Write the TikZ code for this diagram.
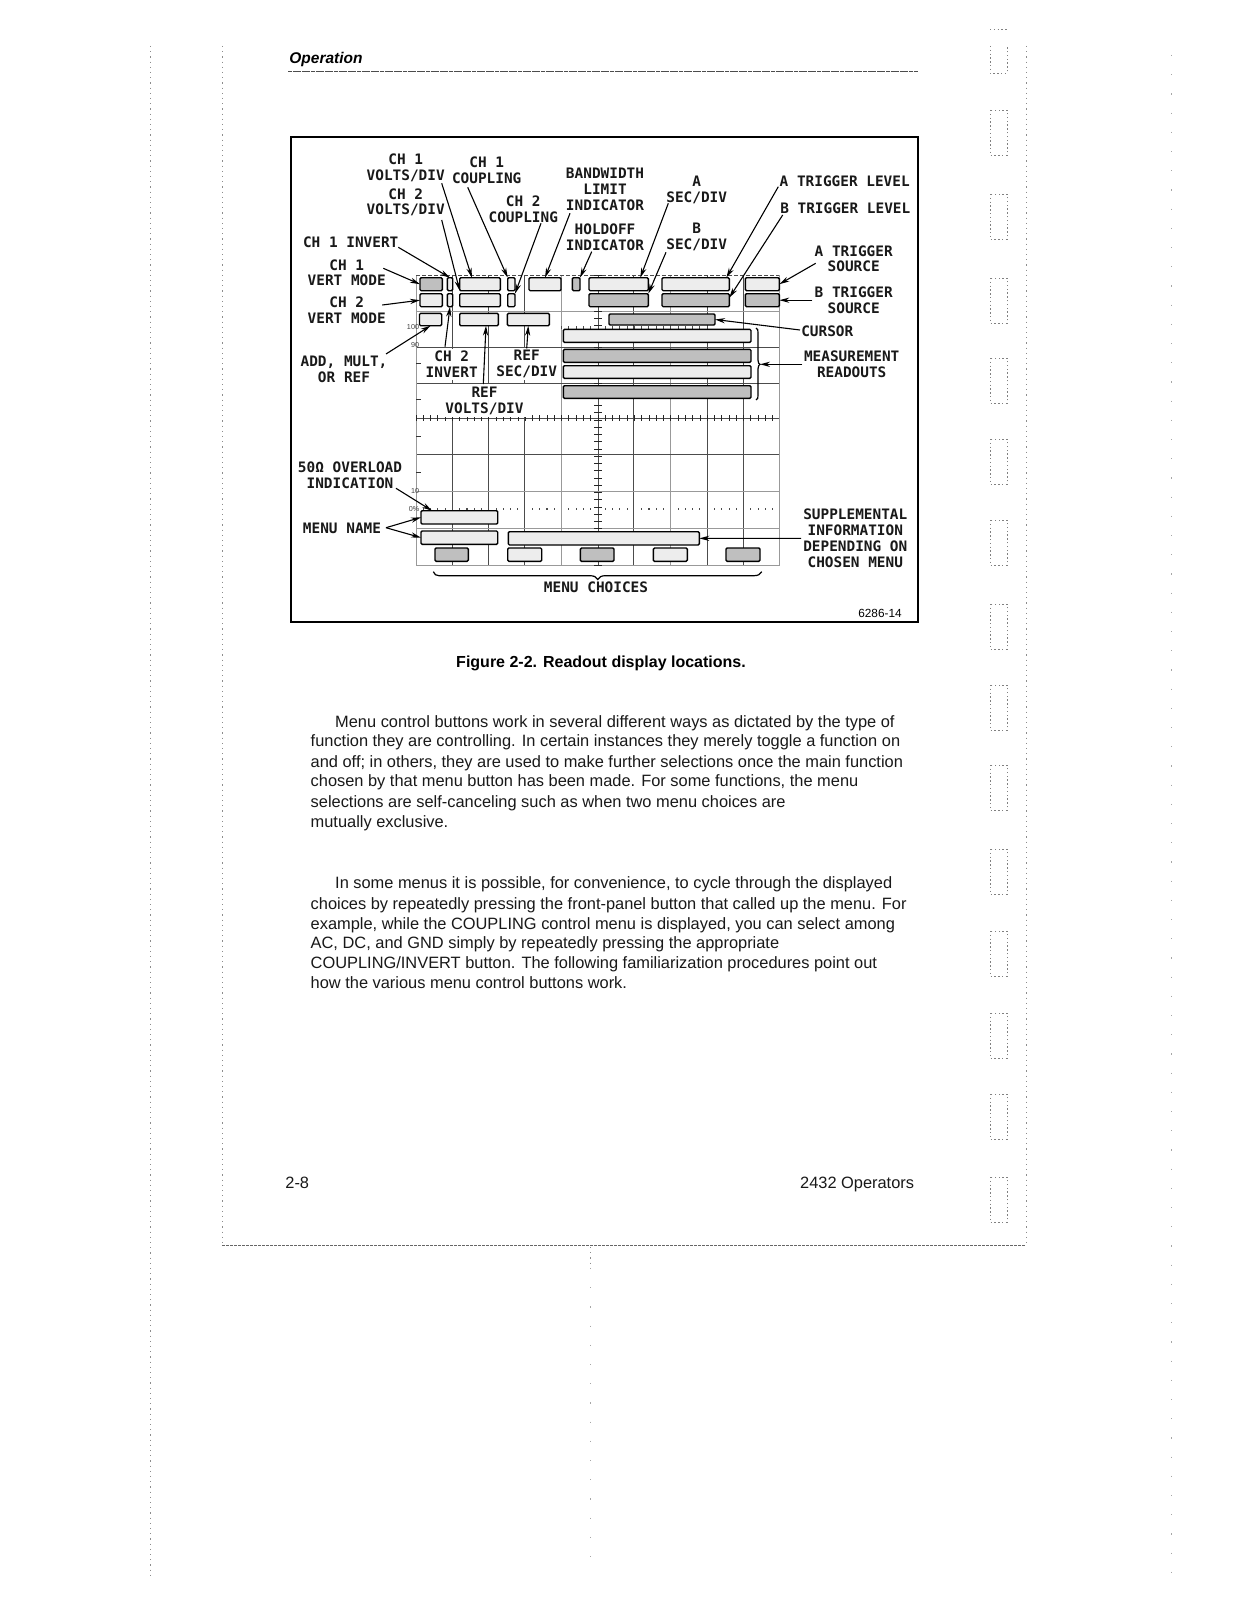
\documentclass[tikz,border=0pt]{standalone}
\usepackage{fontspec}
\setmainfont{Liberation Sans}
\newfontfamily\labfont{DejaVu Sans Mono}[BoldFont={DejaVu Sans Mono Bold}]
\usetikzlibrary{arrows.meta}
\newcommand{\rbox}[6]{\pgfmathsetmacro\rw{(#4-#2)*0.5}\pgfmathsetmacro\rh{(#5-#3)*0.5}\node[readbox,fill=#6,minimum width=\rw pt,minimum height=\rh pt] (#1) at ({(#2+#4)/2},{(#3+#5)/2}) {};}
\colorlet{dk}{black!25}
\colorlet{lt}{black!7}
\tikzset{
 x=0.5pt,y=-0.5pt,
 readbox/.style={draw=black,line width=0.7pt,inner sep=0pt,outer sep=0pt,rounded corners=0.6pt},
 lab/.style={font=\labfont\bfseries\fontsize{7.2}{7.95}\selectfont,align=center,inner sep=0pt,text=black!90},
 labw/.style={lab,fill=white,inner sep=1.2pt},
 pointer/.style={draw=black,line width=0.55pt,-{Stealth[length=5pt,width=2.6pt,fill=black!45]}},
 gridd/.style={draw=black!70,line width=0.35pt},
 gridg/.style={draw=black!40,line width=0.5pt},
 body/.style={font=\fontsize{8.2}{10}\selectfont,anchor=base west,inner sep=0pt,text=black!90},
 pagedots/.style={draw=black!45,line width=0.35pt,dash pattern=on 0.6pt off 2pt},
 sparse/.style={draw=black!35,line width=0.4pt,dash pattern=on 0.6pt off 9pt},
 tabbox/.style={draw=black!50,line width=0.4pt,dash pattern=on 0.7pt off 1.2pt},
 scalelab/.style={font=\fontsize{3.6}{4}\selectfont,inner sep=0pt,text=black!75},
}
\begin{document}
\begin{tikzpicture}
\useasboundingbox (0,0) rectangle (1235,1600);
\fill[white] (0,0) rectangle (1235,1600);
% page furniture
\coordinate (pgTL) at (222,46); \coordinate (pgBL) at (222,1245); \coordinate (pgBR) at (1026,1245); \coordinate (pgTR) at (1026,46);
\draw[pagedots] (pgTL) -- (pgBL);
\draw[pagedots] (pgTR) -- (pgBR);
\draw[black!60,line width=0.5pt,dash pattern=on 1.5pt off 0.5pt] (pgBL) -- (pgBR);
\coordinate (fA) at (150,46); \coordinate (fB) at (150,1577); \draw[pagedots] (fA) -- (fB);
\coordinate (fC) at (1171,55); \coordinate (fD) at (1171,1577); \draw[sparse] (fC) -- (fD);
\coordinate (fE) at (590,1247); \coordinate (fF) at (590,1268); \draw[pagedots] (fE) -- (fF);
\coordinate (fG) at (590,1268); \coordinate (fH) at (590,1565); \draw[sparse] (fG) -- (fH);
\foreach \t in {110,194,278,358,439,520,604,685,765,849,931,1013,1094,1177}
  \draw[tabbox] (990,\t) rectangle (1007,\t+45);
\draw[tabbox] (990,46) -- (990,73) -- (1007,73) -- (1007,46);
\draw[tabbox] (990,29) -- (1007,29);
% header and footer
\node[font=\bfseries\itshape\fontsize{7.75}{10}\selectfont,anchor=base west,inner sep=0pt] (hdr) at (289,63.5) {Operation};
\coordinate (ruleL) at (288,71.5); \coordinate (ruleR) at (918,71.5);
\draw[black!70,line width=0.45pt,dash pattern=on 2pt off 0.3pt] (ruleL) -- (ruleR);
\node[body] (pgno) at (285,1188) {2-8};
\node[body,anchor=base east] (manual) at (914.5,1188) {2432 Operators};
% figure frame
\draw[black,line width=1pt] (291,137) rectangle (918,622);
% graticule
\foreach \x in {452,488,524,598,633,707,743} \draw[gridd] (\x,275) -- (\x,565);
\foreach \x in {561,670} \draw[gridg] (\x,275) -- (\x,565);
\foreach \y in {347,383,418,454} \draw[gridd] (416,\y) -- (779,\y);
\foreach \y in {311,491,528} \draw[gridg] (416,\y) -- (779,\y);
\draw[gridg] (416,275) -- (416,565) -- (779,565) -- (779,275);
\draw[black!70,line width=0.4pt,dash pattern=on 2pt off 1pt] (416,275) -- (779,275);
\foreach \i in {0,...,49} {
  \draw[black!85,line width=0.4pt] ({416+\i*7.28},415) -- ({416+\i*7.28},421);
  \pgfmathparse{int(mod(\i,5))}
  \ifnum\pgfmathresult=0\else
    \draw[black!70,line width=0.55pt] ({416+\i*7.28},508) -- ({416+\i*7.28},510);
  \fi
}
\foreach \i in {20,...,40} \draw[black!70,line width=0.5pt] ({416+\i*7.28},326) -- ({416+\i*7.28},329);
\foreach \i in {0,...,40} \draw[black!85,line width=0.4pt] (594,{275+\i*7.25}) -- (601.5,{275+\i*7.25});
\foreach \y in {363,399,436,472} \draw[black!80,line width=0.4pt] (416,\y) -- (421,\y);
\node[scalelab] (s100) at (413,327) {100};
\node[scalelab] (s90) at (415,345) {90};
\node[scalelab] (s10) at (415,490.7) {10};
\node[scalelab] (s0) at (414,509) {0\%};
% readout boxes
\rbox{vmA}{420}{277.7}{442.3}{290.7}{dk}
\rbox{vmB}{420}{293.7}{442.3}{306.7}{lt}
\rbox{vmC}{419.5}{313.3}{441.7}{325.7}{lt}
\rbox{invA}{447.3}{277.7}{452.7}{290.7}{lt}
\rbox{invB}{447.3}{293.7}{452.7}{306.7}{lt}
\rbox{voltA}{459.7}{277.7}{500.3}{290.7}{lt}
\rbox{voltB}{459.7}{293.7}{500.3}{306.7}{lt}
\rbox{voltC}{459.7}{313.3}{498.3}{325.7}{lt}
\rbox{coupA}{507.7}{277.7}{515}{290.7}{lt}
\rbox{coupB}{507.7}{293.7}{515}{306.7}{lt}
\rbox{refsec}{507.3}{313.3}{549.3}{325.7}{lt}
\rbox{bwlim}{529}{277.7}{561}{290.7}{lt}
\rbox{hold}{572.3}{277.7}{580}{290.7}{dk}
\rbox{secA}{589}{277.7}{648.3}{290.7}{lt}
\rbox{secB}{589}{293.7}{648.3}{306.7}{dk}
\rbox{trigA}{662}{277.7}{729.3}{290.7}{lt}
\rbox{trigB}{662}{293.7}{729.3}{306.7}{dk}
\rbox{srcA}{745.3}{277.7}{779.3}{290.7}{lt}
\rbox{srcB}{745.3}{293.7}{779.3}{306.7}{dk}
\rbox{curs}{609}{314}{715}{325}{dk}
\rbox{meA}{563.3}{329.3}{751}{342.3}{lt}
\rbox{meB}{563.3}{349.3}{751}{362.3}{dk}
\rbox{meC}{563.3}{365.7}{751}{378.3}{lt}
\rbox{meD}{563.3}{385.7}{751}{398.3}{dk}
\rbox{menuA}{421}{510.7}{497.7}{524}{lt}
\rbox{menuB}{421}{531}{497.7}{544.3}{lt}
\rbox{supp}{508.3}{531.7}{699.3}{545}{lt}
\rbox{chA}{435}{548}{468.3}{561.3}{dk}
\rbox{chB}{507.7}{548}{541.7}{561.3}{lt}
\rbox{chC}{580.3}{548}{614}{561.3}{dk}
\rbox{chD}{653.3}{548}{687.3}{561.3}{lt}
\rbox{chE}{726}{548}{760}{561.3}{dk}
% labels
\node[lab] (l1) at (405.7,167.6) {CH 1\\VOLTS/DIV};
\node[lab] (l2) at (405.7,202.3) {CH 2\\VOLTS/DIV};
\node[lab] (l3) at (486.7,170.7) {CH 1\\COUPLING};
\node[lab] (l4) at (523.3,209.5) {CH 2\\COUPLING};
\node[lab] (l5) at (605,189.5) {BANDWIDTH\\LIMIT\\INDICATOR};
\node[lab] (l6) at (605,237.5) {HOLDOFF\\INDICATOR};
\node[lab] (l7) at (696.7,189.7) {A\\SEC/DIV};
\node[lab] (l8) at (696.7,237.3) {B\\SEC/DIV};
\node[lab] (l9) at (844.7,181) {A TRIGGER LEVEL};
\node[lab] (l10) at (845.3,208.3) {B TRIGGER LEVEL};
\node[lab] (l11) at (853.7,258.8) {A TRIGGER\\SOURCE};
\node[lab] (l12) at (853.7,300.5) {B TRIGGER\\SOURCE};
\node[lab] (l13) at (827.3,331.3) {CURSOR};
\node[lab] (l14) at (851.7,364.5) {MEASUREMENT\\READOUTS};
\node[lab] (l15) at (350.7,242.7) {CH 1 INVERT};
\node[lab] (l16) at (346.7,272.8) {CH 1\\VERT MODE};
\node[lab] (l17) at (346.7,310) {CH 2\\VERT MODE};
\node[lab] (l18) at (344,369.3) {ADD,  MULT,\\OR REF};
\node[labw] (l19) at (451.7,364.2) {CH 2\\INVERT};
\node[labw] (l20) at (526.7,363.8) {REF\\SEC/DIV};
\node[labw] (l21) at (484.5,400.5) {REF\\VOLTS/DIV};
\node[lab] (l22) at (350,475) {50Ω OVERLOAD\\INDICATION};
\node[lab] (l23) at (342,528.3) {MENU NAME};
\node[lab] (l24) at (596,587.3) {MENU CHOICES};
\node[lab] (l25) at (855.3,538) {SUPPLEMENTAL\\INFORMATION\\DEPENDING ON\\CHOSEN MENU};
\node[font=\fontsize{5.9}{7}\selectfont,inner sep=0pt] (fignum) at (880,613) {6286-14};
% connector start points
\coordinate (c1) at (441.7,183.3);
\coordinate (c2) at (441.7,220);
\coordinate (c3) at (467.7,187.3);
\coordinate (c4) at (541,223.3);
\coordinate (c5) at (570,213.3);
\coordinate (c6) at (591.7,251.7);
\coordinate (c7) at (668.3,203.3);
\coordinate (c8) at (666,252.3);
\coordinate (c9) at (778.3,186.7);
\coordinate (c10) at (782.7,215);
\coordinate (c11) at (815.7,263.3);
\coordinate (c12) at (812.3,300.2);
\coordinate (c13) at (800,330);
\coordinate (c14) at (802.3,364.3);
\coordinate (c15) at (398.3,247.3);
\coordinate (c16) at (383.3,268.3);
\coordinate (c17) at (382.3,305);
\coordinate (c18) at (386,354);
\coordinate (c19) at (445,346.7);
\coordinate (c20) at (526.7,348.3);
\coordinate (c21) at (483.3,384);
\coordinate (c22) at (396,488.3);
\coordinate (c23) at (386,527.7);
\coordinate (c25) at (801,538.3);
\coordinate (bracetip) at (760,364.3);
% connectors
\draw[pointer] (c1) -- ([xshift=-4pt]voltA.north);
\draw[pointer] (c2) -- (voltA.south west);
\draw[pointer] (c3) -- (coupA.north west);
\draw[pointer] (c4) -- (coupB.north east);
\draw[pointer] (c5) -- (bwlim.north);
\draw[pointer] (c6) -- (hold.north east);
\draw[pointer] (c7) -- ([xshift=-4pt]secA.north east);
\draw[pointer] (c8) -- (secB.north east);
\draw[pointer] (c9) -- ([xshift=-1.5pt]trigA.north east);
\draw[pointer] (c10) -- ([yshift=-2pt]trigB.north east);
\draw[pointer] (c11) -- (srcA.east);
\draw[pointer] (c12) -- (srcB.east);
\draw[pointer] (c13) -- (curs.east);
\draw[pointer] (c14) -- (bracetip);
\draw[pointer] (c15) -- (invA.north);
\draw[pointer] (c16) -- (vmA.west);
\draw[pointer] (c17) -- (vmB.west);
\draw[pointer] (c18) -- (vmC.south);
\draw[pointer] (c19) -- (invB.south);
\draw[pointer] (c20) -- (refsec.south);
\draw[pointer] (c21) -- ([xshift=3.5pt]voltC.south);
\draw[pointer] (c22) -- ([xshift=5.5pt]menuA.north west);
\draw[pointer] (c23) -- (menuA.west);
\draw[pointer] (c23) -- (menuB.west);
\draw[pointer] (c25) -- (supp.east);
% braces
\draw[black,line width=0.6pt] (756,328) .. controls (758,329) and (758,330) .. (758,333) -- (758,360) .. controls (758,363) and (759,364) .. (760,364.3) .. controls (759,365) and (758,366) .. (758,369) -- (758,395) .. controls (758,398) and (758,399) .. (756,400);
\draw[black,line width=0.6pt] (433.3,571.7) .. controls (434.5,574.5) and (436,575.7) .. (439,575.7) -- (590,575.7) .. controls (594,575.7) and (596.5,577) .. (597.7,579.5) .. controls (599,577) and (601.5,575.7) .. (605,575.7) -- (754,575.7) .. controls (758,575.7) and (760,574.5) .. (761.7,571.7);
% caption
\node[font=\bfseries\fontsize{8}{10}\selectfont,inner sep=0pt] (cap) at (601,663) {Figure 2-2. Readout display locations.};
% body text
\node[body] (t1) at (334.8,727) {Menu control buttons work in several different ways as dictated by the type of};
\node[body] (t2) at (310.3,746.5) {function they are controlling. In certain instances they merely toggle a function on};
\node[body] (t3) at (310.3,767) {and off; in others, they are used to make further selections once the main function};
\node[body] (t4) at (310.3,786.5) {chosen by that menu button has been made. For some functions, the menu};
\node[body] (t5) at (310.3,807) {selections are self-canceling such as when two menu choices are};
\node[body] (t6) at (310.3,827) {mutually exclusive.};
\node[body] (t7) at (334.8,888.5) {In some menus it is possible, for convenience, to cycle through the displayed};
\node[body] (t8) at (310.3,909) {choices by repeatedly pressing the front-panel button that called up the menu. For};
\node[body] (t9) at (310.3,929) {example, while the COUPLING control menu is displayed, you can select among};
\node[body] (t10) at (310.3,948.5) {AC, DC, and GND simply by repeatedly pressing the appropriate};
\node[body] (t11) at (310.3,968) {COUPLING/INVERT button.  The following familiarization procedures point out};
\node[body] (t12) at (310.3,988) {how the various menu control buttons work.};
\end{tikzpicture}
\end{document}
